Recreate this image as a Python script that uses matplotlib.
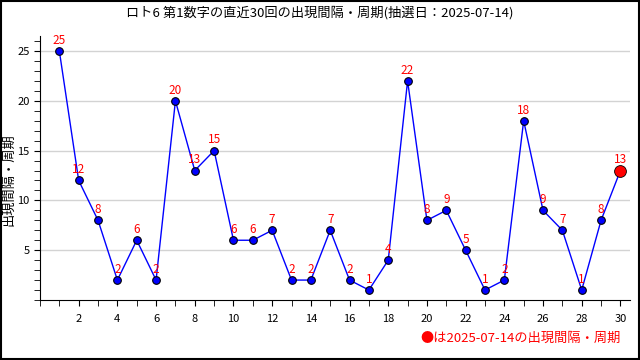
import numpy as np
import matplotlib.pyplot as plt
from matplotlib.ticker import MultipleLocator

plt.rcParams['font.family'] = ['Noto Sans CJK JP', 'DejaVu Sans']

draws = list(range(1, 31))
gaps = [25, 12, 8, 2, 6, 2, 20, 13, 15, 6, 6, 7, 2, 2, 7, 2, 1, 4, 22, 8, 9, 5, 1, 2, 18, 9, 7, 1, 8, 13]
title = 'ロト6 第1数字の直近30回の出現間隔・周期(抽選日：2025-07-14)'
ylabel = '出現間隔・周期'
note = '●は2025-07-14の出現間隔・周期'

fig = plt.figure(figsize=(6.4, 3.6), dpi=100)
fig.patches.append(plt.Rectangle((0.001, 0.002), 0.997, 0.996, transform=fig.transFigure,
                                 fill=False, edgecolor='black', linewidth=1.5))
ax = fig.add_axes([0.0625, 0.1667, 0.922, 0.733])

ax.plot(draws, gaps, color='blue', linewidth=1, zorder=2)
ax.plot(draws[:-1], gaps[:-1], 'o', color='blue', markeredgecolor='black',
        markeredgewidth=0.8, markersize=5.5, zorder=3)
ax.plot(draws[-1], gaps[-1], 'o', color='red', markeredgecolor='black',
        markeredgewidth=0.6, markersize=8.5, zorder=3)
for x, y in zip(draws, gaps):
    ax.annotate(str(y), (x, y), xytext=(0, 3), textcoords='offset points',
                ha='center', va='bottom', color='red', fontsize=8.5)

ax.set_xlim(0, 30.5)
ax.set_ylim(0, 26.5)
ax.set_xticks(range(2, 31, 2))
ax.xaxis.set_minor_locator(MultipleLocator(1))
ax.yaxis.set_minor_locator(MultipleLocator(1))
ax.set_yticks([5, 10, 15, 20, 25])
ax.tick_params(which='both', direction='out', length=4, labelsize=8, color='black')
ax.tick_params(axis='x', pad=6)
ax.grid(axis='y', which='major', color='#d3d3d3', linewidth=1)
ax.set_axisbelow(True)
for s in ['top', 'right']:
    ax.spines[s].set_visible(False)

fig.text(0.014, 0.5, ylabel, rotation=90, ha='center', va='center', fontsize=9.5)
fig.text(0.5, 0.965, title, ha='center', va='center', fontsize=9.5)
fig.text(0.97, 0.06, note, ha='right', va='center', color='red', fontsize=9.5)

fig.savefig('out.png', dpi=100)
